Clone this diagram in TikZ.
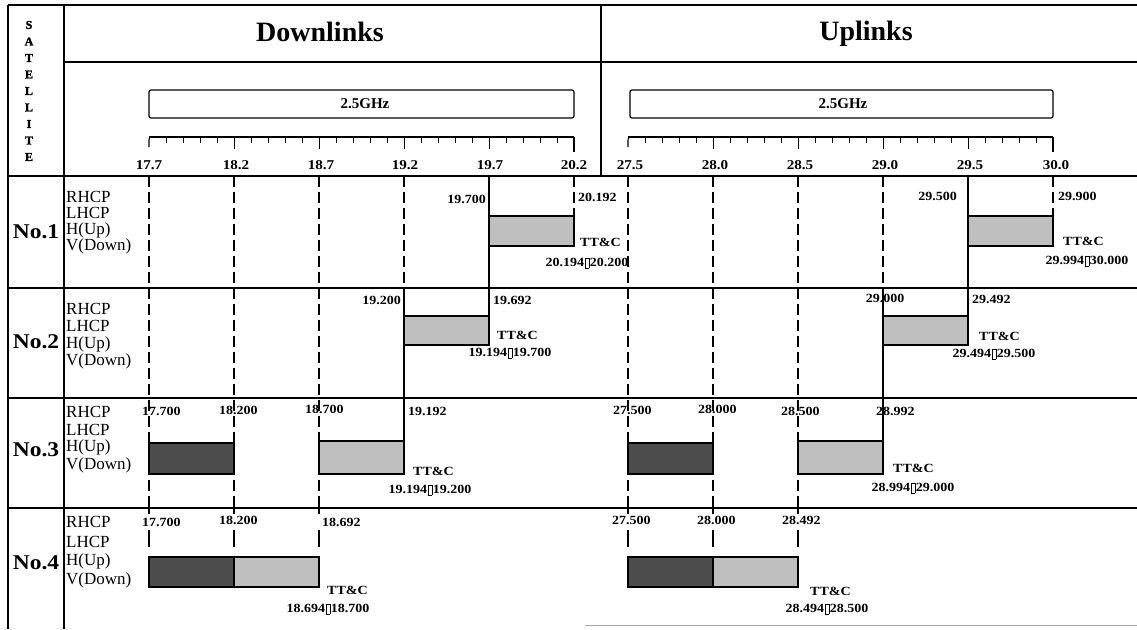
\documentclass[tikz,border=0pt]{standalone}
\usepackage{fontspec}
\setmainfont{Liberation Serif}
\newfontfamily\numf[FakeStretch=1.12]{Liberation Serif}
\newfontfamily\satf[FakeBold=1.5]{Liberation Serif}
\newcommand{\nbox}{\hspace{0.5pt}\raisebox{-0.6pt}{\setlength{\fboxsep}{0pt}\setlength{\fboxrule}{0.8pt}\fbox{\rule{0pt}{9pt}\rule{3pt}{0pt}}}\hspace{0.5pt}}
\begin{document}
\begin{tikzpicture}[x=1pt,y=-1pt,
  tbl/.style={line width=1.5pt},
  dsh/.style={line width=1.2pt, dash pattern=on 11pt off 5pt},
  sol/.style={line width=1.2pt},
  bar/.style={draw, line width=1.9pt},
  dark/.style={bar, fill=black!70},
  light/.style={bar, fill=black!25},
  hdr/.style={font=\bfseries\fontsize{28}{28}\selectfont},
  ghz/.style={font=\bfseries\fontsize{15}{15}\selectfont},
  scl/.style={font=\numf\bfseries\fontsize{13.5}{13.5}\selectfont, inner sep=0pt},
  val/.style={font=\numf\bfseries\fontsize{12.5}{12.5}\selectfont, inner sep=0pt},
  pol/.style={font=\fontsize{17}{17}\selectfont, inner sep=0pt, anchor=west},
  sat/.style={font=\satf\bfseries\fontsize{12}{12}\selectfont, inner sep=0pt},
  nolab/.style={font=\numf\bfseries\fontsize{21}{21}\selectfont, inner sep=0pt}]
\useasboundingbox (0,0) rectangle (1137,629);
\fill[white] (0,0) rectangle (1137,629);
% ---------- table frame ----------
\draw[tbl] (8,5) -- (1137,5);
\draw[tbl] (8,5) -- (8,629);
\draw[tbl] (64,5) -- (64,629);
\draw[tbl] (64,62) -- (1137,62);
\draw[tbl] (601,5) -- (601,176);
\foreach \yy in {176,288,398,508} \draw[tbl] (8,\yy) -- (1137,\yy);
\draw[line width=0.8pt, black!35] (585,625) -- (1137,625);
% ---------- satellite column ----------
\foreach \c/\k in {S/0,A/1,T/2,E/3,L/4,L/5,I/6,T/7,E/8}
  \node[sat] (sat\k) at (29,{25+16.5*\k}) {\c};
% ---------- headers ----------
\node[hdr] (hdl) at (320,32) {Downlinks};
\node[hdr] (hul) at (866,34) {Uplinks};
\draw[line width=1.2pt, rounded corners=2pt] (149,90) rectangle (574,118);
\draw[line width=1.2pt, rounded corners=2pt] (630,90) rectangle (1053,118);
\node[ghz] (gdl) at (365,104) {2.5GHz};
\node[ghz] (gul) at (843,104) {2.5GHz};
% axes
\foreach \xa in {149,628}{
  \draw[line width=1.1pt] (\xa+2,137) to[out=180,in=90] (\xa,140) -- (\xa,147);
  \draw[line width=1.1pt] (\xa,137) -- (\xa+425,137);
  \draw[line width=1.1pt] (\xa+425,137) -- (\xa+425,152);
  \foreach \i in {1,2,3,4,6,7,8,9,11,12,13,14,16,17,18,19,21,22,23,24}
    \draw[line width=1pt] (\xa+17*\i,137) -- (\xa+17*\i,143);
  \foreach \i in {5,10,15,20}
    \draw[line width=1pt] (\xa+17*\i,137) -- (\xa+17*\i,149);
}
\foreach \x/\t/\k in {149/17.7/0,236/18.2/1,321/18.7/2,405/19.2/3,490/19.7/4,574/20.2/5}
  \node[scl] (sd\k) at (\x,165) {\t};
\foreach \x/\t/\k in {630/27.5/0,715/28.0/1,800/28.5/2,885/29.0/3,970/29.5/4,1056/30.0/5}
  \node[scl] (su\k) at (\x,165) {\t};
% ---------- row labels ----------
\foreach \n/\yc/\a/\b/\c/\d in {1/232/197/213/230/246, 2/342/309/326/344/361, 3/450/412/430/447/465, 4/563/522/542/561/580}{
  \node[nolab] (no\n) at (36,\yc) {No.\n};
  \node[pol] (r\n) at (66,\a) {RHCP};
  \node[pol] (l\n) at (66,\b) {LHCP};
  \node[pol] (h\n) at (66,\c) {H(Up)};
  \node[pol] (v\n) at (66,\d) {V(Down)};
}
% ---------- row 1 ----------
\foreach \x in {149,234,319,404,628,713,798,883} \draw[dsh] (\x,176) -- (\x,288);
\draw[sol] (489,176) -- (489,288);
\draw[sol] (968,176) -- (968,288);
\draw[dsh] (574,176) -- (574,216);
\draw[dsh] (1053,176) -- (1053,216);
\draw[light] (489,216) rectangle (574,246);
\draw[light] (968,216) rectangle (1053,246);
\node[val, anchor=east] (a1) at (486,199) {19.700};
\node[val, anchor=west] (b1) at (578,197) {20.192};
\node[val, anchor=west] (t1) at (580,242) {TT\&C};
\node[val] (c1) at (587,263) {20.194\nbox20.200};
\node[val, anchor=east] (a1u) at (957,196) {29.500};
\node[val, anchor=west] (b1u) at (1058,196) {29.900};
\node[val, anchor=west] (t1u) at (1063,241) {TT\&C};
\node[val] (c1u) at (1087,261) {29.994\nbox30.000};
% ---------- row 2 ----------
\foreach \x in {149,234,319,628,713,798} \draw[dsh] (\x,288) -- (\x,398);
\draw[sol] (404,288) -- (404,398);
\draw[sol] (883,288) -- (883,398);
\draw[sol] (489,288) -- (489,316);
\draw[sol] (968,288) -- (968,316);
\draw[light] (404,316) rectangle (489,345);
\draw[light] (883,316) rectangle (968,345);
\node[val, anchor=east] (a2) at (401,300) {19.200};
\node[val, anchor=west] (b2) at (493,300) {19.692};
\node[val, anchor=west] (t2) at (497,335) {TT\&C};
\node[val] (c2) at (510,353) {19.194\nbox19.700};
\node[val] (a2u) at (885,298) {29.000};
\node[val, anchor=west] (b2u) at (972,299) {29.492};
\node[val, anchor=west] (t2u) at (979,336) {TT\&C};
\node[val] (c2u) at (994,354) {29.494\nbox29.500};
% ---------- row 3 ----------
\foreach \x in {149,234,319,628,713,798} \draw[dsh] (\x,400) -- (\x,508);
\draw[sol] (404,398) -- (404,441);
\draw[sol] (883,398) -- (883,441);
\draw[dark] (149,443) rectangle (234,474);
\draw[light] (319,441) rectangle (404,474);
\draw[dark] (628,443) rectangle (713,474);
\draw[light, line width=2.3pt] (798,441) rectangle (883,474);
\node[val, anchor=west] (a3) at (142,411) {17.700};
\node[val, anchor=west] (b3) at (219,410) {18.200};
\node[val, anchor=west] (d3) at (305,409) {18.700};
\node[val, anchor=west] (e3) at (408,411) {19.192};
\node[val, anchor=west] (t3) at (413,471) {TT\&C};
\node[val] (c3) at (430,490) {19.194\nbox19.200};
\node[val, anchor=west] (a3u) at (613,410) {27.500};
\node[val, anchor=west] (b3u) at (698,409) {28.000};
\node[val, anchor=west] (d3u) at (781,411) {28.500};
\node[val, anchor=west] (e3u) at (876,411) {28.992};
\node[val, anchor=west] (t3u) at (893,468) {TT\&C};
\node[val] (c3u) at (913,488) {28.994\nbox29.000};
% ---------- row 4 ----------
\foreach \x in {149,234,319,628,713,798}{
  \draw[sol] (\x,503) -- (\x,514);
  \draw[sol] (\x,530) -- (\x,547);
}
\draw[dark] (149,557) rectangle (234,587);
\draw[light] (234,557) rectangle (319,587);
\draw[dark] (628,557) rectangle (713,587);
\draw[light] (713,557) rectangle (798,587);
\node[val, anchor=west] (a4) at (142,522) {17.700};
\node[val, anchor=west] (b4) at (219,520) {18.200};
\node[val, anchor=west] (d4) at (322,522) {18.692};
\node[val, anchor=west] (t4) at (327,590) {TT\&C};
\node[val] (c4) at (328,609) {18.694\nbox18.700};
\node[val, anchor=west] (a4u) at (612,520) {27.500};
\node[val, anchor=west] (b4u) at (697,520) {28.000};
\node[val, anchor=west] (d4u) at (782,520) {28.492};
\node[val, anchor=west] (t4u) at (810,591) {TT\&C};
\node[val] (c4u) at (827,609) {28.494\nbox28.500};
\end{tikzpicture}
\end{document}
